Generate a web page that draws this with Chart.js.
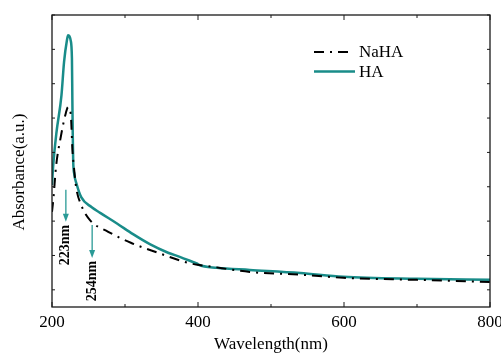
<!DOCTYPE html>
<html>
<head>
<meta charset="utf-8">
<script src="https://cdn.jsdelivr.net/npm/chart.js@4.4.0/dist/chart.umd.min.js"></script>
<style>
html, body { margin: 0; padding: 0; background: #fff; }
</style>
</head>
<body>
<canvas id="uvChart" width="501" height="356"></canvas>
<script>
// Espectro UV-Vis (unidades arbitrarias)
const haWavelength = [200, 201.5, 206, 213, 216.5, 220.5, 222, 224, 225.5, 227.3, 227.9, 228.4, 229, 230.5, 233.3, 240, 254, 266, 289, 311, 334, 359, 375, 393, 399, 401, 426, 471, 540, 599, 700, 800];
const haAbsorbance = [3.05, 3.58, 4.56, 5.67, 6.63, 7.27, 7.41, 7.38, 7.27, 6.74, 5.52, 4.56, 3.78, 3.37, 3.11, 2.70, 2.41, 2.24, 1.93, 1.62, 1.33, 1.08, 0.96, 0.81, 0.76, 0.73, 0.64, 0.58, 0.49, 0.38, 0.32, 0.29];

const nahaWavelength = [200, 202, 205.5, 212, 219, 222, 224, 226, 228, 230, 233, 240, 252, 277, 308, 345, 382, 399, 410, 471, 540, 599, 700, 800];
const nahaAbsorbance = [2.27, 2.67, 3.58, 4.45, 5.15, 5.32, 5.26, 5.03, 4.07, 3.58, 2.99, 2.47, 2.03, 1.69, 1.37, 1.08, 0.81, 0.73, 0.70, 0.52, 0.44, 0.35, 0.29, 0.23];

// Marcas de picos (flechas + texto)
const peakLabels = ['223nm', '254nm'];
const peakArrowX = [219, 255];
const peakArrowTop = [2.91, 1.89];
const peakArrowBottom = [1.98, 0.93];

const serif = '"Liberation Serif", "Times New Roman", serif';
const teal = '#198c89';

function toPoints(xs, ys) {
    return xs.map((x, i) => ({ x: x, y: ys[i] }));
}

// Marco, ticks hacia adentro, leyenda, título Y y anotaciones
const extrasPlugin = {
    id: 'extras',
    afterDraw(chart) {
        const ctx = chart.ctx;
        const { left, right, top, bottom } = chart.chartArea;
        const xs = chart.scales.x;
        const ys = chart.scales.y;

        ctx.save();
        ctx.strokeStyle = '#1a1a1a';
        ctx.lineWidth = 1.3;
        ctx.strokeRect(left, top, right - left, bottom - top);

        // ticks en X (arriba y abajo)
        ctx.lineWidth = 1;
        for (let v = 200; v <= 800; v += 100) {
            const px = xs.getPixelForValue(v);
            const len = v % 200 === 0 ? 5 : 3;
            ctx.beginPath();
            ctx.moveTo(px, bottom); ctx.lineTo(px, bottom - len);
            ctx.moveTo(px, top); ctx.lineTo(px, top + len);
            ctx.stroke();
        }
        // ticks en Y (izquierda y derecha)
        for (let v = 0; v <= 8; v++) {
            const py = ys.getPixelForValue(v);
            ctx.beginPath();
            ctx.moveTo(left, py); ctx.lineTo(left + 3, py);
            ctx.moveTo(right, py); ctx.lineTo(right - 3, py);
            ctx.stroke();
        }

        // flechas de los picos
        peakLabels.forEach((label, i) => {
            const px = xs.getPixelForValue(peakArrowX[i]);
            const y0 = ys.getPixelForValue(peakArrowTop[i]);
            const y1 = ys.getPixelForValue(peakArrowBottom[i]);
            ctx.strokeStyle = '#2a9a96';
            ctx.fillStyle = '#2a9a96';
            ctx.lineWidth = 1.3;
            ctx.beginPath();
            ctx.moveTo(px, y0); ctx.lineTo(px, y1 - 6);
            ctx.stroke();
            ctx.beginPath();
            ctx.moveTo(px, y1);
            ctx.lineTo(px - 3, y1 - 8);
            ctx.lineTo(px + 3, y1 - 8);
            ctx.closePath();
            ctx.fill();

            ctx.save();
            ctx.translate(px, y1 + 3);
            ctx.rotate(-Math.PI / 2);
            ctx.fillStyle = '#000';
            ctx.font = 'bold 14px ' + serif;
            ctx.textAlign = 'right';
            ctx.textBaseline = 'middle';
            ctx.fillText(label, 0, 0);
            ctx.restore();
        });

        // leyenda
        chart.data.datasets.forEach((ds, i) => {
            const ly = 52 + i * 19.5;
            ctx.strokeStyle = ds.borderColor;
            ctx.lineWidth = ds.borderWidth;
            ctx.setLineDash(ds.borderDash || []);
            ctx.beginPath();
            ctx.moveTo(314, ly); ctx.lineTo(i === 0 ? 350 : 355, ly);
            ctx.stroke();
            ctx.setLineDash([]);
            ctx.fillStyle = '#000';
            ctx.font = '17px ' + serif;
            ctx.textAlign = 'left';
            ctx.textBaseline = 'middle';
            ctx.fillText(ds.label, 359, ly + 1);
        });

        // título del eje Y
        ctx.translate(20, 172);
        ctx.rotate(-Math.PI / 2);
        ctx.fillStyle = '#000';
        ctx.font = '17px ' + serif;
        ctx.textAlign = 'center';
        ctx.textBaseline = 'middle';
        ctx.fillText('Absorbance(a.u.)', 0, 0);
        ctx.restore();
    }
};

const ctx = document.getElementById('uvChart').getContext('2d');
const uvChart = new Chart(ctx, {
    type: 'line',
    data: {
        datasets: [
            {
                label: 'NaHA',
                data: toPoints(nahaWavelength, nahaAbsorbance),
                borderColor: '#000000',
                borderWidth: 2,
                borderDash: [10, 6, 2, 6],
                pointRadius: 0,
                fill: false,
                cubicInterpolationMode: 'monotone'
            },
            {
                label: 'HA',
                data: toPoints(haWavelength, haAbsorbance),
                borderColor: teal,
                borderWidth: 2.5,
                pointRadius: 0,
                fill: false,
                cubicInterpolationMode: 'monotone'
            }
        ]
    },
    options: {
        responsive: false,
        animation: false,
        layout: { padding: { top: 15, right: 11, left: 0, bottom: 0 } },
        plugins: {
            legend: { display: false },
            tooltip: { enabled: false }
        },
        scales: {
            x: {
                type: 'linear',
                min: 200,
                max: 800,
                ticks: {
                    stepSize: 200,
                    padding: 5,
                    color: '#000',
                    font: { family: serif, size: 17 }
                },
                grid: { display: false, drawTicks: false },
                border: { display: false },
                title: {
                    display: true,
                    text: 'Wavelength(nm)',
                    color: '#000',
                    font: { family: serif, size: 17 },
                    padding: { top: 0, bottom: 1 }
                },
                afterFit(scale) {
                    scale.height = 49;
                    scale.paddingLeft = 0;
                    scale.paddingRight = 0;
                }
            },
            y: {
                min: -0.5,
                max: 8,
                ticks: { display: false, stepSize: 1 },
                grid: { display: false, drawTicks: false },
                border: { display: false },
                afterFit(scale) { scale.width = 52; }
            }
        }
    },
    plugins: [extrasPlugin]
});
</script>
</body>
</html>
